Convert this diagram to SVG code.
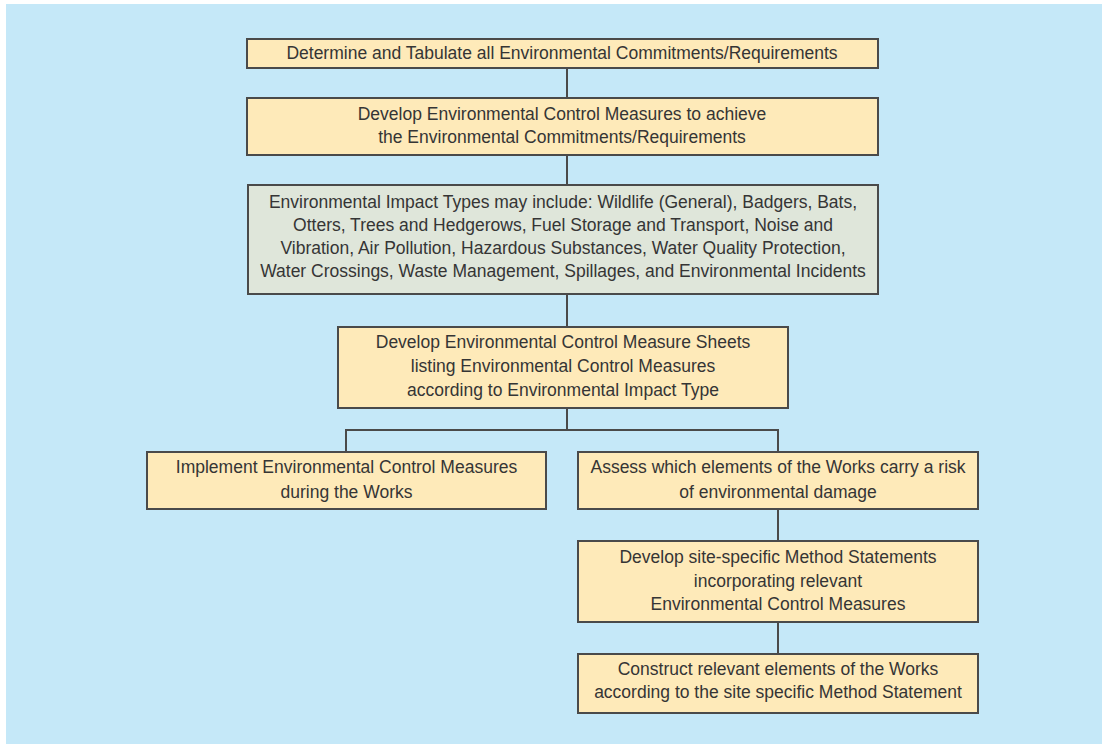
<svg xmlns="http://www.w3.org/2000/svg" width="1102" height="744" viewBox="0 0 1102 744">
<style>
.bg{fill:#c5e8f8}
.box{fill:#feeab9;stroke:#4a4a4a;stroke-width:2}
.grey{fill:#dfe6da}
.t{font-family:"Liberation Sans",Arial,sans-serif;font-size:17.5px;fill:#353535;text-anchor:middle}
.c{stroke:#4a4a4a;stroke-width:2;fill:none}
</style>
<rect x="0" y="0" width="1102" height="744" fill="#ffffff"/>
<rect class="bg" x="6" y="4" width="1096" height="740"/>
<g id="connectors">
<line class="c" x1="567" y1="68" x2="567" y2="98"/>
<line class="c" x1="567" y1="155" x2="567" y2="185"/>
<line class="c" x1="567" y1="294" x2="567" y2="327"/>
<line class="c" x1="567" y1="408" x2="567" y2="430"/>
<polyline class="c" points="346,452 346,430 778,430 778,452"/>
<line class="c" x1="778" y1="509" x2="778" y2="541"/>
<line class="c" x1="778" y1="622" x2="778" y2="654"/>
</g>
<g id="n1">
<rect class="box" x="247" y="39" width="631" height="29"/>
<text class="t" x="562" y="59">Determine and Tabulate all Environmental Commitments/Requirements</text>
</g>
<g id="n2">
<rect class="box" x="247" y="98" width="631" height="57"/>
<text class="t" x="562" y="120">Develop Environmental Control Measures to achieve</text>
<text class="t" x="562" y="143">the Environmental Commitments/Requirements</text>
</g>
<g id="n3">
<rect class="box grey" x="248" y="185" width="630" height="109"/>
<text class="t" x="563" y="208">Environmental Impact Types may include: Wildlife (General), Badgers, Bats,</text>
<text class="t" x="563" y="231">Otters, Trees and Hedgerows, Fuel Storage and Transport, Noise and</text>
<text class="t" x="563" y="254">Vibration, Air Pollution, Hazardous Substances, Water Quality Protection,</text>
<text class="t" x="563" y="277">Water Crossings, Waste Management, Spillages, and Environmental Incidents</text>
</g>
<g id="n4">
<rect class="box" x="338" y="327" width="450" height="81"/>
<text class="t" x="563" y="348">Develop Environmental Control Measure Sheets</text>
<text class="t" x="563" y="372">listing Environmental Control Measures</text>
<text class="t" x="563" y="396">according to Environmental Impact Type</text>
</g>
<g id="n5">
<rect class="box" x="147" y="452" width="399" height="57"/>
<text class="t" x="346.5" y="473">Implement Environmental Control Measures</text>
<text class="t" x="346.5" y="498">during the Works</text>
</g>
<g id="n6">
<rect class="box" x="578" y="452" width="400" height="57"/>
<text class="t" x="778" y="473">Assess which elements of the Works carry a risk</text>
<text class="t" x="778" y="498">of environmental damage</text>
</g>
<g id="n7">
<rect class="box" x="578" y="541" width="400" height="81"/>
<text class="t" x="778" y="563">Develop site-specific Method Statements</text>
<text class="t" x="778" y="587">incorporating relevant</text>
<text class="t" x="778" y="610">Environmental Control Measures</text>
</g>
<g id="n8">
<rect class="box" x="578" y="654" width="400" height="59"/>
<text class="t" x="778" y="675">Construct relevant elements of the Works</text>
<text class="t" x="778" y="698">according to the site specific Method Statement</text>
</g>
</svg>
